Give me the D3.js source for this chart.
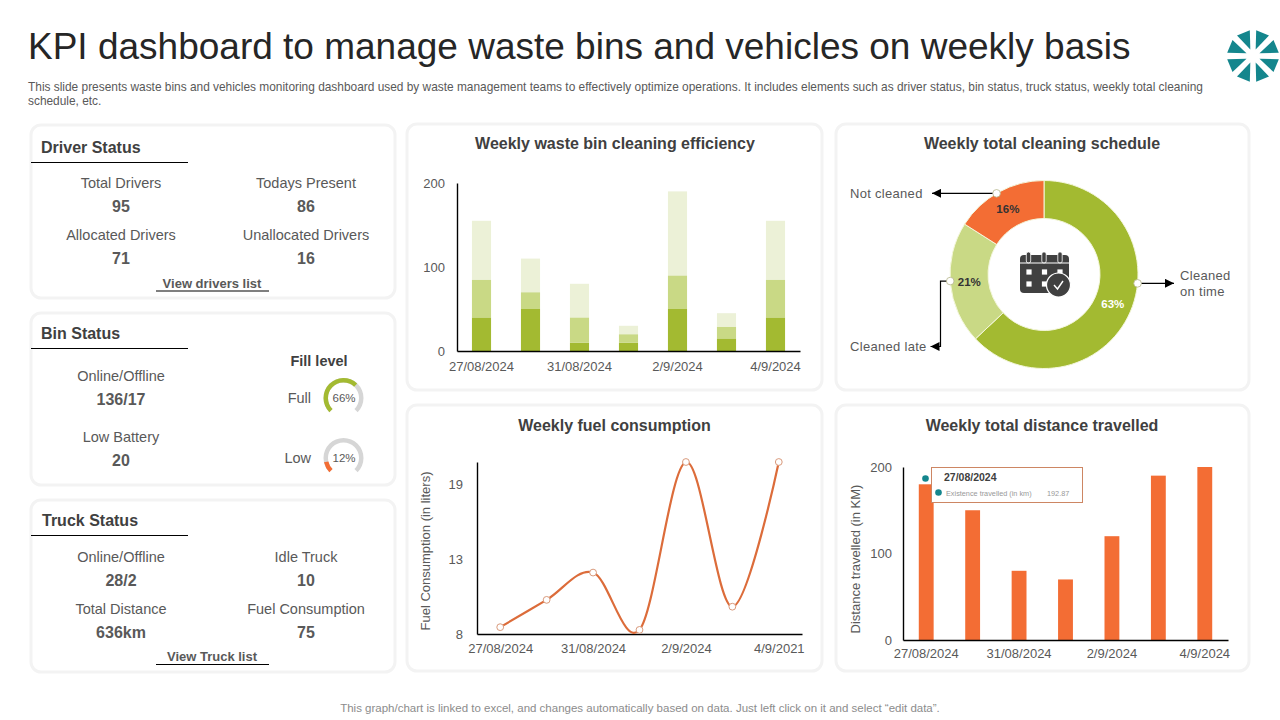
<!DOCTYPE html>
<html>
<head>
<meta charset="UTF-8">
<title>KPI dashboard</title>
<style>
  body { margin: 0; background: #fff; }
  text { font-family: "Liberation Sans", Arial, sans-serif; }
  .axis path, .axis line { stroke: #000; stroke-width: 1.4; }
  .axis text { font-size: 13px; fill: #595959; font-family: "Liberation Sans", Arial, sans-serif; }
</style>
</head>
<body>
<svg id="chart" width="1280" height="720"></svg>
<script src="https://cdn.jsdelivr.net/npm/d3@7"></script>
<script>
// data
var binDates = ['27/08/2024', '29/08/2024', '31/08/2024', '1/9/2024', '2/9/2024', '3/9/2024', '4/9/2024'];
var binOnTime = [40, 50, 10, 10, 50, 15, 40];
var binLate = [45, 20, 30, 10, 40, 14, 45];
var binMissed = [70, 40, 40, 10, 100, 16, 70];
var binDateTicks = ['27/08/2024', '31/08/2024', '2/9/2024', '4/9/2024'];
var binValueTicks = [0, 100, 200];

var scheduleNames = ['Cleaned on time', 'Cleaned late', 'Not cleaned'];
var scheduleValues = [63, 21, 16];

var fuelDates = ['27/08/2024', '29/08/2024', '31/08/2024', '1/9/2024', '2/9/2024', '3/9/2024', '4/9/2021'];
var fuelValues = [8, 10, 12, 7.8, 20.1, 9.5, 20.1];
var fuelDateTicks = ['27/08/2024', '31/08/2024', '2/9/2024', '4/9/2021'];
var fuelValueTicks = [7.5, 13, 18.5];

var distanceDates = binDates;
var distanceValues = [180, 150, 80, 70, 120, 190, 200];
var distanceDateTicks = binDateTicks;
var distanceValueTicks = [0, 100, 200];

var fillLevels = [66, 12];

var GREEN = '#a3ba31', GREEN_MID = '#c9d985', GREEN_LIGHT = '#ecf1d7';
var ORANGE = '#f36d34', LINE_ORANGE = '#dc6c3a', TEAL = '#14868d';
var DARK = '#404040', GREY = '#595959';

var svg = d3.select('#chart');

function label(x, y, str, size, opts) {
  opts = opts || {};
  return svg.append('text')
    .attr('x', x)
    .attr('y', y)
    .attr('dy', '.35em')
    .attr('text-anchor', opts.anchor || 'middle')
    .attr('font-size', size)
    .attr('font-weight', opts.bold ? 'bold' : 'normal')
    .attr('fill', opts.color || GREY)
    .style('letter-spacing', opts.spacing || null)
    .text(str);
}

function rule(x1, x2, y) {
  svg.append('line')
    .attr('x1', x1).attr('x2', x2).attr('y1', y).attr('y2', y)
    .attr('stroke', '#000').attr('stroke-width', 1.2);
}

function card(x, y, w, h) {
  svg.append('rect')
    .attr('x', x).attr('y', y).attr('width', w).attr('height', h)
    .attr('rx', 10)
    .attr('fill', '#fff')
    .attr('stroke', '#f3f3f3')
    .attr('stroke-width', 3);
}

function axes(x, y, xTicks, yTicks, baseY, leftX, padX, padY) {
  svg.append('g')
    .attr('class', 'axis')
    .attr('transform', 'translate(0,' + baseY + ')')
    .call(d3.axisBottom(x).tickValues(xTicks).tickSize(0).tickPadding(padX));
  svg.append('g')
    .attr('class', 'axis')
    .attr('transform', 'translate(' + leftX + ',0)')
    .call(d3.axisLeft(y).tickValues(yTicks).tickSize(0).tickPadding(padY));
}

// header
label(28, 46, 'KPI dashboard to manage waste bins and vehicles on weekly basis', 37, { anchor: 'start', color: '#262626' });
label(28, 87, 'This slide presents waste bins and vehicles monitoring dashboard used by waste management teams to effectively optimize operations. It includes elements such as driver status, bin status, truck status, weekly total cleaning', 11.9, { anchor: 'start' });
label(28, 101, 'schedule, etc.', 11.9, { anchor: 'start' });
label(640, 708, 'This graph/chart is linked to excel, and changes automatically based on data. Just left click on it and select \u201Cedit data\u201D.', 11.5, { color: '#8c8c8c' });

// logo
var logoAngles = d3.range(8).map(function(i) { return (22.5 + i * 45) * Math.PI / 180; });
var logoSpoke = d3.lineRadial().curve(d3.curveLinearClosed);
svg.append('g')
  .attr('transform', 'translate(1253,56)')
  .selectAll('path')
  .data(logoAngles)
  .enter()
  .append('path')
    .attr('fill', TEAL)
    .attr('d', function(a) {
      return logoSpoke([[a, 7], [a - 0.27, 26], [a + 0.27, 26]]);
    });

// cards
card(31, 125, 364, 173);
card(31, 313, 364, 172);
card(31, 500, 364, 172);
card(407, 124, 415, 266);
card(836, 124, 413, 266);
card(407, 405, 415, 266);
card(836, 405, 413, 266);

function heading(x, y, str) {
  label(x, y, str, 16, { anchor: 'start', bold: true, color: DARK });
  rule(31, 188, y + 15.5);
}

function stat(x, y, name, value) {
  label(x, y, name, 14.5);
  label(x, y + 23.5, value, 16, { bold: true });
}

// driver status
heading(41, 147, 'Driver Status');
stat(121, 183, 'Total Drivers', '95');
stat(306, 183, 'Todays Present', '86');
stat(121, 235, 'Allocated Drivers', '71');
stat(306, 235, 'Unallocated Drivers', '16');
label(212, 283.5, 'View drivers list', 13, { bold: true });
rule(156, 269, 291);

// bin status
heading(41, 333, 'Bin Status');
stat(121, 375.5, 'Online/Offline', '136/17');
stat(121, 436.5, 'Low Battery', '20');
label(319, 360.5, 'Fill level', 14.5, { bold: true, color: DARK });
label(311, 398, 'Full', 14.5, { anchor: 'end' });
label(311, 458, 'Low', 14.5, { anchor: 'end' });

var gaugeAngle = d3.scaleLinear().domain([0, 100]).range([-0.75 * Math.PI, 0.75 * Math.PI]);
var gaugeArc = d3.arc().innerRadius(15.5).outerRadius(20);
[{ y: 398, color: GREEN }, { y: 458, color: ORANGE }].forEach(function(g, i) {
  var group = svg.append('g').attr('transform', 'translate(343.5,' + g.y + ')');
  group.append('path')
    .attr('fill', '#d6d6d6')
    .attr('d', gaugeArc({ startAngle: gaugeAngle(0), endAngle: gaugeAngle(100) }));
  group.append('path')
    .attr('fill', g.color)
    .attr('d', gaugeArc({ startAngle: gaugeAngle(0), endAngle: gaugeAngle(fillLevels[i]) }));
  label(344, g.y, fillLevels[i] + '%', 11.5);
});

// truck status
heading(42, 520, 'Truck Status');
stat(121, 556.5, 'Online/Offline', '28/2');
stat(306, 556.5, 'Idle Truck', '10');
stat(121, 608.5, 'Total Distance', '636km');
stat(306, 608.5, 'Fuel Consumption', '75');
label(212, 656, 'View Truck list', 13, { bold: true });
rule(156, 269, 664.5);

// weekly waste bin cleaning efficiency
label(615, 143, 'Weekly waste bin cleaning efficiency', 16, { bold: true, color: DARK });

var binX = d3.scaleBand().domain(binDates).range([457, 800]).paddingInner(0.61).paddingOuter(0.305);
var binY = d3.scaleLinear().domain([0, 200]).range([351, 183]);
var binRows = binDates.map(function(d, i) {
  return { date: d, onTime: binOnTime[i], late: binLate[i], missed: binMissed[i] };
});
var binStack = d3.stack().keys(['onTime', 'late', 'missed'])(binRows);
var binColor = d3.scaleOrdinal().domain(['onTime', 'late', 'missed']).range([GREEN, GREEN_MID, GREEN_LIGHT]);

svg.append('g')
  .selectAll('g')
  .data(binStack)
  .enter()
  .append('g')
    .attr('fill', function(s) { return binColor(s.key); })
  .selectAll('rect')
  .data(function(s) { return s; })
  .enter()
  .append('rect')
    .attr('x', function(d) { return binX(d.data.date); })
    .attr('width', binX.bandwidth())
    .attr('y', function(d) { return binY(d[1]); })
    .attr('height', function(d) { return binY(d[0]) - binY(d[1]); });

axes(binX, binY, binDateTicks, binValueTicks, 351, 457, 11, 12);

// weekly total cleaning schedule
label(1042, 143, 'Weekly total cleaning schedule', 16, { bold: true, color: DARK });

var donut = svg.append('g').attr('transform', 'translate(1044,274.5)');
var slices = d3.pie().sort(null)(scheduleValues);
var sliceColor = [GREEN, GREEN_MID, ORANGE];
var sliceText = ['#fff', '#333', '#333'];
var sliceArc = d3.arc().innerRadius(56).outerRadius(94);

donut.selectAll('path')
  .data(slices)
  .enter()
  .append('path')
    .attr('d', sliceArc)
    .attr('fill', function(d, i) { return sliceColor[i]; })
    .attr('stroke', '#f4f7dc')
    .attr('stroke-width', 1);

donut.selectAll('text')
  .data(slices)
  .enter()
  .append('text')
    .attr('transform', function(d) { return 'translate(' + sliceArc.centroid(d) + ')'; })
    .attr('dy', '.35em')
    .attr('text-anchor', 'middle')
    .attr('font-size', 11.5)
    .attr('font-weight', 'bold')
    .attr('fill', function(d, i) { return sliceText[i]; })
    .text(function(d) { return d.data + '%'; });

svg.append('defs').append('marker')
    .attr('id', 'arrow')
    .attr('viewBox', '0 0 10 10')
    .attr('refX', 10).attr('refY', 5)
    .attr('markerWidth', 9).attr('markerHeight', 9)
    .attr('markerUnits', 'userSpaceOnUse')
    .attr('orient', 'auto')
  .append('path')
    .attr('d', 'M0,0L10,5L0,10Z')
    .attr('fill', '#000');

// callouts, angles are measured on the picture
var callouts = [
  { angle: 95.4, path: function(p) { return [p, [1174, p[1]]]; } },
  { angle: 266, path: function(p) { return [p, [940.5, p[1]], [940.5, 346.5], [930.5, 346.5]]; } },
  { angle: -30.3, path: function(p) { return [p, [932, p[1]]]; } }
];
callouts.forEach(function(c) {
  var p = d3.pointRadial(c.angle * Math.PI / 180, 94);
  var pt = [1044 + p[0], 274.5 + p[1]];
  svg.append('path')
    .attr('d', d3.line()(c.path(pt)))
    .attr('fill', 'none')
    .attr('stroke', '#000')
    .attr('stroke-width', 1.2)
    .attr('marker-end', 'url(#arrow)');
  svg.append('circle')
    .attr('cx', pt[0]).attr('cy', pt[1]).attr('r', 3.8)
    .attr('fill', '#fff')
    .attr('stroke', '#b5b58a')
    .attr('stroke-width', 0.8);
});

label(850, 193.5, scheduleNames[2], 13, { anchor: 'start', spacing: '0.3px' });
label(850, 346.5, scheduleNames[1], 13, { anchor: 'start', spacing: '0.3px' });
label(1180, 275, 'Cleaned', 13, { anchor: 'start', spacing: '0.3px' });
label(1180, 291.5, 'on time', 13, { anchor: 'start', spacing: '0.3px' });

// calendar icon
var icon = svg.append('g').attr('fill', '#404040');
icon.append('rect').attr('x', 1020).attr('y', 255).attr('width', 49).attr('height', 38).attr('rx', 4);
[1028.5, 1044, 1060].forEach(function(x) {
  icon.append('rect').attr('x', x - 2.2).attr('y', 252).attr('width', 4.4).attr('height', 11).attr('rx', 2)
    .attr('fill', '#404040').attr('stroke', '#fff').attr('stroke-width', 0.8);
});
icon.append('rect').attr('x', 1020).attr('y', 262.5).attr('width', 49).attr('height', 1).attr('fill', '#fff');
[[1029, 272], [1044.5, 272], [1060, 272], [1029, 284], [1044.5, 284]].forEach(function(p) {
  icon.append('rect').attr('x', p[0] - 2.6).attr('y', p[1] - 2.6).attr('width', 5.2).attr('height', 5.2).attr('fill', '#fff');
});
icon.append('circle').attr('cx', 1058.5).attr('cy', 285).attr('r', 12).attr('stroke', '#fff').attr('stroke-width', 1.2);
icon.append('path').attr('d', 'M1054,285L1057.5,289L1063,281').attr('fill', 'none').attr('stroke', '#fff').attr('stroke-width', 1.4);

// weekly fuel consumption
label(614.5, 425, 'Weekly fuel consumption', 16, { bold: true, color: DARK });

var fuelX = d3.scalePoint().domain(fuelDates).range([477, 802]).padding(0.5);
var fuelY = d3.scaleLinear().domain([7.5, 20.1]).range([634, 462]);
var fuelLine = d3.line()
  .x(function(d, i) { return fuelX(fuelDates[i]); })
  .y(function(d) { return fuelY(d); })
  .curve(d3.curveCatmullRom.alpha(0));

axes(fuelX, fuelY, fuelDateTicks, fuelValueTicks, 634, 477, 10, 14);

svg.append('path')
  .attr('d', fuelLine(fuelValues))
  .attr('fill', 'none')
  .attr('stroke', LINE_ORANGE)
  .attr('stroke-width', 2.2);

svg.append('g')
  .selectAll('circle')
  .data(fuelValues)
  .enter()
  .append('circle')
    .attr('cx', function(d, i) { return fuelX(fuelDates[i]); })
    .attr('cy', function(d) { return fuelY(d); })
    .attr('r', 3.4)
    .attr('fill', '#fff')
    .attr('stroke', '#d99a7c')
    .attr('stroke-width', 1);

svg.append('text')
  .attr('transform', 'translate(425,551) rotate(-90)')
  .attr('dy', '.35em')
  .attr('text-anchor', 'middle')
  .attr('font-size', 13)
  .attr('fill', GREY)
  .text('Fuel Consumption (in liters)');

// weekly total distance travelled
label(1042, 425, 'Weekly total distance travelled', 16, { bold: true, color: DARK });

var distX = d3.scaleBand().domain(distanceDates).range([903, 1228]).paddingInner(0.68).paddingOuter(0.34);
var distY = d3.scaleLinear().domain([0, 200]).range([640, 467]);

svg.append('g')
  .selectAll('rect')
  .data(distanceValues)
  .enter()
  .append('rect')
    .attr('x', function(d, i) { return distX(distanceDates[i]); })
    .attr('width', distX.bandwidth())
    .attr('y', function(d) { return distY(d); })
    .attr('height', function(d) { return distY(0) - distY(d); })
    .attr('fill', ORANGE);

axes(distX, distY, distanceDateTicks, distanceValueTicks, 640, 903, 9, 11);

svg.append('text')
  .attr('transform', 'translate(855,559) rotate(-90)')
  .attr('dy', '.35em')
  .attr('text-anchor', 'middle')
  .attr('font-size', 13)
  .attr('fill', GREY)
  .text('Distance travelled (in KM)');

// tooltip over the first bar
svg.append('rect')
  .attr('x', 931.5).attr('y', 467.5).attr('width', 151).attr('height', 35)
  .attr('fill', '#fff')
  .attr('stroke', '#cd8663')
  .attr('stroke-width', 1);
svg.append('circle').attr('cx', 925.5).attr('cy', 478.5).attr('r', 3.3).attr('fill', TEAL);
svg.append('circle').attr('cx', 938.5).attr('cy', 492.5).attr('r', 3.3).attr('fill', TEAL);
label(944, 477.5, '27/08/2024', 10.5, { anchor: 'start', bold: true, color: DARK });
label(946, 493, 'Existence travelled (in km)', 7.3, { anchor: 'start', color: '#999' });
label(1047, 493, '192.87', 7.3, { anchor: 'start', color: '#999' });
</script>
</body>
</html>
